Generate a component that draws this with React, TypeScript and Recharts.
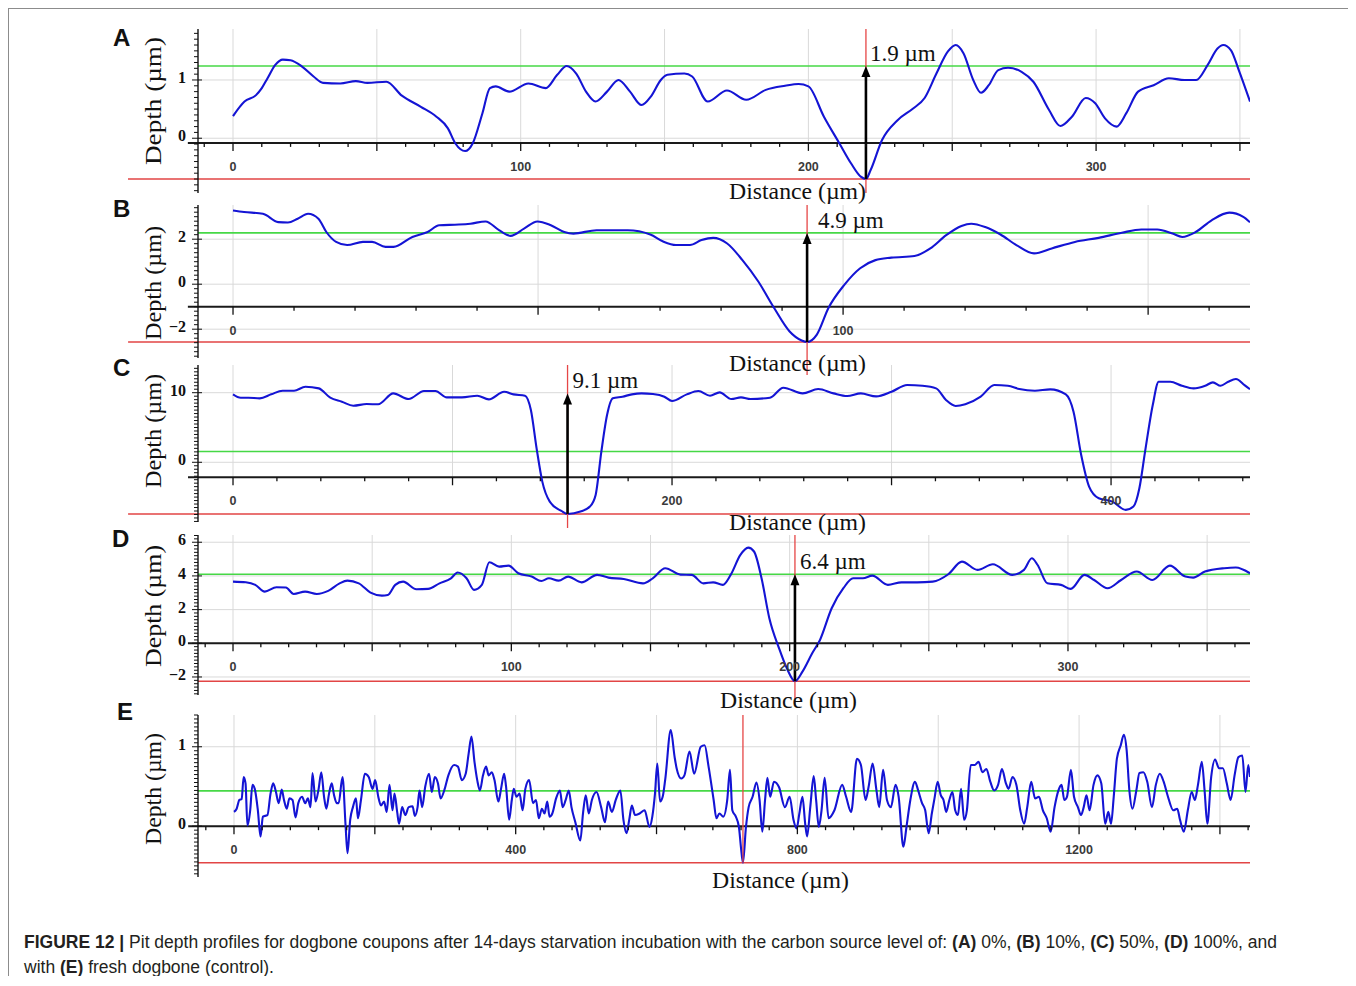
import React from "react";
import { LineChart, Line, XAxis, YAxis, ReferenceLine, ReferenceDot } from "recharts";

type Pt = [number, number];

// distance (µm), depth (µm)
const profileA: Pt[] = [
  [0, 0.38], [4, 0.63], [8, 0.74], [10, 0.86], [12, 1.03], [14.7, 1.26], [17.3, 1.35], [20, 1.34],
  [24, 1.23], [28, 1.06], [31.3, 0.95], [37.3, 0.94], [42.7, 0.98], [46.7, 0.95], [53.3, 0.97],
  [58.7, 0.73], [65.3, 0.54], [70.7, 0.37], [74.7, 0.17], [77.3, -0.09], [80.7, -0.22], [83.3, -0.09],
  [86.7, 0.43], [89.3, 0.86], [91.3, 0.89], [96, 0.8], [102.7, 0.94], [108.7, 0.86], [112.7, 1.09],
  [116, 1.24], [119.3, 1.11], [122.7, 0.8], [126, 0.63], [130, 0.8], [134, 1.0], [138, 0.8], [142, 0.57],
  [145.3, 0.72], [148.7, 1.0], [151, 1.09], [156.9, 1.11], [159.6, 1.06], [165, 0.63], [171.7, 0.82],
  [178.4, 0.66], [185.2, 0.83], [191.9, 0.9], [196.6, 0.93], [200, 0.89], [205.4, 0.37], [210.8, -0.09],
  [214.8, -0.43], [218.2, -0.66], [220, -0.7], [221.6, -0.55], [225.6, -0.03], [231, 0.31], [236.4, 0.51],
  [240.4, 0.69], [244.5, 1.11], [248.5, 1.49], [251.2, 1.6], [253.9, 1.46], [257.3, 1.0], [260, 0.78],
  [262.7, 0.91], [266, 1.17], [269.4, 1.21], [274.1, 1.14], [278.2, 0.97], [283.6, 0.49], [287.6, 0.21],
  [291.6, 0.37], [296.4, 0.69], [299.7, 0.6], [303.1, 0.34], [307.1, 0.2], [310.5, 0.43], [314.6, 0.8],
  [320, 0.91], [325.3, 1.03], [330.7, 1.0], [334.8, 1.0], [338.8, 1.26], [342.2, 1.54], [344.2, 1.6],
  [346.9, 1.51], [349.6, 1.17], [353.5, 0.63],
];

const profileB: Pt[] = [
  [0, 3.28], [1.8, 3.21], [4.9, 3.13], [7.4, 2.76], [9, 2.74], [10.6, 2.91], [12.3, 3.13], [14, 2.91],
  [15.3, 2.32], [16.9, 1.88], [18.7, 1.74], [21.3, 1.88], [22.8, 1.88], [25, 1.66], [26.3, 1.66],
  [29.4, 2.1], [31.9, 2.32], [33.8, 2.62], [37, 2.65], [38.9, 2.69], [41.4, 2.79], [43.6, 2.4],
  [45.5, 2.15], [47.7, 2.47], [49.9, 2.79], [52.1, 2.62], [54.3, 2.32], [55.8, 2.25], [59.6, 2.4],
  [64.7, 2.4], [68.4, 2.21], [70.5, 1.9], [72.6, 1.74], [74.9, 1.74], [76.8, 1.96], [78.7, 2.06],
  [81, 1.81], [83.5, 1.07], [86.1, 0.12], [88.7, -1.06], [91.2, -2.09], [93.2, -2.5], [94.1, -2.57],
  [95.7, -2.24], [97.6, -1.06], [100.2, -0.03], [102.8, 0.71], [105.3, 1.07], [107.9, 1.18],
  [111.7, 1.25], [114.3, 1.59], [116.9, 2.18], [119.4, 2.59], [121, 2.69], [123.3, 2.54], [125.8, 2.21],
  [128.4, 1.74], [131.3, 1.37], [134.2, 1.59], [138, 1.88], [141.9, 2.06], [145.7, 2.29], [148.9, 2.43],
  [151.5, 2.43], [154, 2.25], [155.6, 2.1], [157.8, 2.32], [160.4, 2.84], [163.3, 3.18], [165.6, 2.99],
  [166.7, 2.75],
];

const profileC: Pt[] = [
  [0, 9.76], [3.5, 9.28], [7, 9.28], [12.2, 9.19], [17.4, 9.76], [22.6, 10.29], [27.8, 10.29], [33, 10.86],
  [39.1, 10.62], [44.3, 9.28], [49.6, 8.71], [54.8, 8.13], [60.9, 8.37], [66.1, 8.33], [73, 9.9], [80, 9.09],
  [87, 10.24], [92.2, 10.24], [97.4, 9.33], [104.3, 9.33], [111.3, 9.57], [116.5, 9.04], [123.5, 10.14],
  [127.8, 9.76], [133, 9.57], [135.7, 7.51], [138.3, 2.01], [140.9, -2.78], [144.3, -5.65], [149.6, -6.99],
  [152.4, -7.42], [158.3, -7.08], [162.6, -6.36], [165.2, -4.69], [167.8, 1.53], [170.4, 6.79], [173, 9.19],
  [177.4, 9.43], [181.7, 9.76], [186.1, 9.9], [191.3, 9.81], [196.5, 9.43], [200, 8.8], [206.7, 9.76],
  [212, 10.24], [217.3, 9.57], [221.7, 10.05], [227, 9.09], [231.4, 9.33], [235.8, 9.09], [244.6, 9.28],
  [250.7, 10.72], [259.5, 9.9], [266.6, 10.53], [273.6, 9.9], [279.8, 9.52], [286, 9.9], [293, 9.47],
  [300, 10.14], [307.1, 11.1], [314.1, 11.0], [320.3, 10.62], [324.8, 8.95], [329.2, 8.09], [333.6, 8.33],
  [340.6, 9.43], [346.8, 11.1], [353, 11.0], [358.2, 10.53], [365.3, 10.29], [372.3, 10.48], [379.4, 9.76],
  [382.9, 7.27], [386.4, 1.05], [390, -3.49], [394.4, -5.17], [400.6, -5.65], [406.7, -6.84], [410.2, -6.36],
  [412.9, -3.73], [415.5, 1.53], [419, 8.23], [421.7, 11.58], [427, 11.58], [432.3, 11.0], [437.6, 10.62],
  [442.9, 11.0], [446.4, 11.48], [449.9, 11.0], [453.4, 11.58], [456.9, 11.96], [460.8, 11.1], [463.3, 10.5],
];

const profileD: Pt[] = [
  [0, 3.66], [4.6, 3.62], [8, 3.47], [11.4, 3.07], [15.6, 3.33], [19, 3.31], [21.8, 2.93], [25.9, 3.07],
  [30.1, 2.93], [34.2, 3.11], [38.3, 3.56], [41.1, 3.72], [45.2, 3.56], [49.4, 3.01], [53.5, 2.83],
  [55.6, 2.87], [58.3, 3.47], [61.1, 3.66], [65.9, 3.21], [70.1, 3.23], [74.2, 3.56], [78.3, 3.86],
  [80.7, 4.2], [83.9, 3.86], [86.6, 3.17], [89.4, 3.47], [92.1, 4.81], [95.6, 4.55], [99, 4.61],
  [102.5, 4.16], [107.3, 3.96], [110.8, 3.7], [113.5, 3.86], [117, 3.72], [120.4, 3.96], [125.2, 3.62],
  [130.8, 4.06], [134.9, 3.9], [140.4, 3.82], [147.3, 3.56], [150.8, 3.86], [155.3, 4.46], [160.8, 4.08],
  [164.8, 4.06], [169, 3.56], [172.5, 3.62], [176, 3.47], [178.8, 4.06], [182.3, 5.25], [185.1, 5.68],
  [187.2, 5.45], [189.9, 3.86], [192.7, 1.49], [196.2, -0.3], [199, -1.49], [201.9, -2.25], [204.6, -1.68],
  [208.1, -0.59], [210.9, 0.2], [215.1, 2.08], [219.3, 3.27], [222.8, 3.86], [226.3, 3.86], [229.7, 4.02],
  [235.3, 3.47], [240.2, 3.62], [245.8, 3.62], [251.4, 3.66], [257, 4.1], [261.9, 4.85], [267.5, 4.36],
  [273, 4.69], [280, 4.06], [284.2, 4.36], [287, 5.05], [289.1, 4.65], [292.6, 3.56], [297.5, 3.47],
  [301, 3.23], [305.9, 4.06], [309.4, 3.76], [314.2, 3.27], [319.1, 3.76], [324.7, 4.26], [330.3, 3.76],
  [336.6, 4.61], [342.2, 3.96], [345, 3.9], [349.2, 4.26], [356.1, 4.46], [360.3, 4.5], [365.4, 4.16],
];

const profileE: Pt[] = [
  [0, 0.18], [3.8, 0.22], [7.7, 0.33], [10.9, 0.34], [13.7, 0.62], [16.4, 0.54], [19.1, 0.01], [23, 0.2],
  [26.2, 0.52], [29.5, 0.47], [33.9, 0.2], [37.7, -0.13], [41, 0.12], [47.5, 0.14], [51.9, 0.41], [55.7, 0.54],
  [59.6, 0.43], [63.4, 0.29], [67.8, 0.46], [71, 0.33], [74.9, 0.22], [78.7, 0.35], [83.1, 0.33], [87.4, 0.11],
  [91.3, 0.29], [96.7, 0.37], [101.1, 0.29], [104.9, 0.35], [108.7, 0.24], [111.5, 0.67], [115.8, 0.31],
  [120.2, 0.47], [124, 0.68], [127.9, 0.37], [131.1, 0.22], [135, 0.41], [138.8, 0.54], [142.1, 0.39],
  [145.9, 0.29], [148.6, 0.29], [154.1, 0.62], [158.5, 0.0], [161.2, -0.34], [165, 0.08], [168.9, 0.24],
  [173.2, 0.35], [176, 0.1], [180.3, 0.33], [185.8, 0.66], [191.3, 0.62], [196.7, 0.47], [200.5, 0.58],
  [204.9, 0.37], [208.7, 0.26], [213.1, 0.31], [216.9, 0.18], [220.8, 0.52], [225.1, 0.2], [227.9, 0.41],
  [231.7, 0.18], [234.4, 0.03], [238.8, 0.24], [243.2, 0.14], [248.1, 0.24], [253.6, 0.25], [256.8, 0.13],
  [260.7, 0.24], [263.4, 0.45], [267.2, 0.24], [271.6, 0.5], [277, 0.66], [280.9, 0.43], [285.2, 0.62],
  [289.6, 0.54], [293.4, 0.35], [298.9, 0.46], [304.4, 0.64], [312.6, 0.77], [318, 0.75], [323.5, 0.58],
  [329, 0.66], [333.3, 0.92], [337.2, 1.13], [341.5, 0.81], [345.4, 0.58], [349.2, 0.45], [353.6, 0.64],
  [357.9, 0.75], [361.7, 0.64], [366.1, 0.68], [369.9, 0.58], [375.4, 0.31], [379.2, 0.47], [383.6, 0.66],
  [386.3, 0.5], [390.7, 0.08], [394.5, 0.33], [397.3, 0.47], [401.1, 0.37], [405.5, 0.41], [409.8, 0.2],
  [413.7, 0.47], [419.1, 0.58], [424.6, 0.29], [428.9, 0.33], [432.8, 0.1], [437.2, 0.22], [441, 0.16],
  [444.8, 0.31], [448.1, 0.12], [452, 0.16], [457.4, 0.35], [462.8, 0.45], [466.7, 0.24], [471, 0.33],
  [475.4, 0.45], [479.2, 0.24], [484.7, 0.05], [491.8, -0.18], [495.6, 0.16], [499.5, 0.39], [503.8, 0.16],
  [508.2, 0.33], [514.8, 0.43], [521.3, 0.24], [526.8, 0.05], [531.2, 0.31], [536.6, 0.18], [542.1, 0.33],
  [548.6, 0.45], [553, 0.08], [557.4, -0.09], [561.2, 0.08], [565, 0.26], [569.4, 0.14], [576, 0.16],
  [583.1, 0.2], [590, -0.01], [594, 0.12], [597.8, 0.41], [601.1, 0.79], [605, 0.31], [608.7, 0.37],
  [612.5, 0.6], [620.2, 1.21], [625.7, 0.87], [628.5, 0.73], [635.1, 0.6], [639.6, 0.64], [646.8, 0.94],
  [653.4, 0.66], [662.8, 1.0], [668.3, 1.02], [673.9, 0.75], [681.1, 0.33], [685, 0.1], [689.3, 0.16],
  [694.9, 0.12], [700.4, 0.33], [704.3, 0.71], [707.6, 0.2], [712.6, 0.12], [717, -0.01], [719.8, -0.26],
  [722.7, -0.46], [727, -0.01], [730.8, 0.24], [736.4, 0.37], [741.9, 0.55], [746.3, 0.33], [750.2, -0.07],
  [754.1, 0.33], [757.4, 0.61], [761.3, 0.37], [766.8, 0.56], [774, 0.49], [782.3, 0.24], [789, 0.37],
  [794.5, 0.08], [798.9, -0.03], [802.8, 0.16], [807.2, 0.37], [811.1, 0.03], [813.8, -0.13], [818.3, 0.24],
  [823.2, 0.63], [826.6, 0.33], [830.4, -0.01], [834.3, 0.2], [838.7, 0.61], [844.3, 0.1], [852.6, 0.2],
  [863.6, 0.52], [869.2, 0.37], [876.3, 0.18], [884.6, 0.85], [890.2, 0.77], [896.8, 0.33], [901.2, 0.5],
  [906.8, 0.79], [912.3, 0.45], [916.2, 0.24], [921.7, 0.71], [927.2, 0.33], [932.8, 0.24], [939.4, 0.52],
  [943.8, 0.37], [950.5, -0.26], [954.9, -0.01], [960.4, 0.33], [967, 0.56], [971.5, 0.45], [977, 0.29],
  [981.5, 0.2], [986.4, -0.09], [990.9, 0.16], [994.7, 0.35], [999.2, 0.56], [1003.6, 0.39], [1007.5, 0.33],
  [1011.3, 0.18], [1015.8, 0.33], [1020.2, 0.43], [1024.1, 0.2], [1028, 0.14], [1032.4, 0.47], [1036.8, 0.08],
  [1040.7, 0.2], [1046.2, 0.77], [1051.8, 0.77], [1057.3, 0.81], [1062.8, 0.68], [1068.4, 0.72],
  [1073.9, 0.56], [1079.4, 0.45], [1085, 0.52], [1090.5, 0.72], [1096.1, 0.54], [1099.9, 0.47],
  [1105.4, 0.62], [1111, 0.52], [1116.5, 0.2], [1122, 0.03], [1126.4, 0.24], [1132, 0.56], [1137.5, 0.35],
  [1143, 0.37], [1148.6, 0.2], [1154.1, 0.1], [1159.6, -0.07], [1165.2, 0.24], [1170.7, 0.45],
  [1175.1, 0.52], [1179, 0.33], [1182.8, 0.37], [1188.4, 0.71], [1192.8, 0.37], [1198.3, 0.24],
  [1202.7, 0.14], [1206.6, 0.24], [1210.5, 0.39], [1214.9, 0.2], [1220.5, 0.52], [1226, 0.64],
  [1231.5, 0.54], [1237.1, 0.03], [1241.5, 0.18], [1245.4, 0.03], [1249.2, 0.37], [1253.7, 0.85],
  [1259.2, 1.02], [1263.6, 1.15], [1267.5, 0.96], [1271.4, 0.45], [1275.8, 0.22], [1281.3, 0.45],
  [1285.7, 0.67], [1291.3, 0.68], [1296.8, 0.56], [1303.5, 0.24], [1309, 0.52], [1314.6, 0.66],
  [1320.1, 0.56], [1325.6, 0.39], [1333.9, 0.2], [1339.4, 0.22], [1343.3, 0.08], [1348.8, -0.07],
  [1354.4, 0.2], [1359.9, 0.43], [1364.4, 0.33], [1368.8, 0.52], [1374.3, 0.81], [1378.2, 0.45],
  [1382.1, 0.03], [1387.6, 0.62], [1393.1, 0.84], [1398.7, 0.73], [1404.2, 0.73], [1409.7, 0.54],
  [1415.2, 0.33], [1420.8, 0.64], [1426.3, 0.87], [1431.8, 0.89], [1436.3, 0.43], [1440.2, 0.77],
  [1442.7, 0.62],
];

const xLabelsA = [0, 100, 200, 300];
const xLabelsB = [0, 100];
const xLabelsC = [0, 200, 400];
const xLabelsD = [0, 100, 200, 300];
const xLabelsE = [0, 400, 800, 1200];

const yLabelsA = [0, 1];
const yLabelsB = [-2, 0, 2];
const yLabelsC = [0, 10];
const yLabelsD = [-2, 0, 2, 4, 6];
const yLabelsE = [0, 1];

// mean line (green), deepest point (red), pit position and measured depth
const meanLevel = [1.24, 2.28, 1.55, 4.1, 0.445];
const pitBottom = [-0.7, -2.57, -7.42, -2.25, -0.46];
const pitAt = [220, 94.1, 152.4, 201.9, 722.7];
const pitDepth = ["1.9 µm", "4.9 µm", "9.1 µm", "6.4 µm", ""];

const SERIF = '"Liberation Serif", "Times New Roman", serif';
const SANS = '"Liberation Sans", Arial, Helvetica, sans-serif';
const PAD_T = 12;
const PAD_B = 26;

interface Panel {
  letter: string;
  data: Pt[];
  plotTop: number;
  plotBottom: number;
  xDomain: [number, number];
  yDomain: [number, number];
  xMinor: number;
  xGrid: number;
  xLabels: number[];
  yMinor: number;
  yLabels: number[];
  axisY: number;
  axisFrom: number;
  redFrom: number;
  redVBottom: number;
  arrowTop?: number;
  labelDx: number;
  letterPos: [number, number];
  depthTitle: [number, number];
  distTitle: [number, number];
}

const panels: Panel[] = [
  {
    letter: "A", data: profileA, plotTop: 29, plotBottom: 193,
    xDomain: [-12.17, 353.5], yDomain: [-0.94, 1.875],
    xMinor: 10, xGrid: 50, xLabels: xLabelsA, yMinor: 0.1, yLabels: yLabelsA,
    axisY: -0.08, axisFrom: -15.7, redFrom: -36.5, redVBottom: -0.94, arrowTop: meanLevel[0], labelDx: 4,
    letterPos: [113, 46], depthTitle: [101, 128], distTitle: [797.5, 199],
  },
  {
    letter: "B", data: profileB, plotTop: 205, plotBottom: 358,
    xDomain: [-5.74, 166.7], yDomain: [-3.28, 3.52],
    xMinor: 10, xGrid: 50, xLabels: xLabelsB, yMinor: 0.2, yLabels: yLabelsB,
    axisY: -1.0, axisFrom: -7.4, redFrom: -17.2, redVBottom: -4.04, arrowTop: meanLevel[1], labelDx: 11,
    letterPos: [113, 217], depthTitle: [283, 114], distTitle: [797.5, 371],
  },
  {
    letter: "C", data: profileC, plotTop: 365, plotBottom: 522,
    xDomain: [-15.95, 463.3], yDomain: [-8.58, 13.98],
    xMinor: 20, xGrid: 100, xLabels: xLabelsC, yMinor: 0.5, yLabels: yLabelsC,
    axisY: -2.15, axisFrom: -20.5, redFrom: -47.8, redVBottom: -9.44, arrowTop: 9.9, labelDx: 5,
    letterPos: [113, 376], depthTitle: [431, 114], distTitle: [797.5, 530],
  },
  {
    letter: "D", data: profileD, plotTop: 535, plotBottom: 695,
    xDomain: [-12.58, 365.4], yDomain: [-3.07, 6.43],
    xMinor: 10, xGrid: 50, xLabels: xLabelsD, yMinor: 0.2, yLabels: yLabelsD,
    axisY: 0, axisFrom: -16.2, redFrom: -12.58, redVBottom: -3.66, arrowTop: meanLevel[3], labelDx: 5,
    letterPos: [112, 547], depthTitle: [606, 122], distTitle: [788.5, 708],
  },
  {
    letter: "E", data: profileE, plotTop: 715, plotBottom: 877,
    xDomain: [-51.1, 1442.7], yDomain: [-0.64, 1.4],
    xMinor: 40, xGrid: 200, xLabels: xLabelsE, yMinor: 0.05, yLabels: yLabelsE,
    axisY: 0, axisFrom: -65, redFrom: -51.1, redVBottom: -0.46, labelDx: 5,
    letterPos: [117, 720], depthTitle: [789, 112], distTitle: [780.5, 888],
  },
];

function steps(from: number, to: number, step: number) {
  const out: number[] = [];
  const a = Math.ceil(from / step - 1e-9);
  const b = Math.floor(to / step + 1e-9);
  for (let i = a; i <= b; i++) out.push(Math.round(i * step * 10000) / 10000);
  return out;
}

const onStep = (v: number, step: number) => Math.abs(v / step - Math.round(v / step)) < 1e-6;
const fmt = (v: number) => (v < 0 ? `\u2212${-v}` : `${v}`);

const makeYTick = (labels: number[]) => (props: any) => {
  const { x, y, payload } = props;
  const v = payload.value as number;
  const major = labels.some((l) => Math.abs(l - v) < 1e-6);
  return (
    <g>
      <line x1={x - (major ? 6 : 4)} y1={y} x2={x + (major ? 4 : 0)} y2={y} stroke="#111" strokeWidth={1} />
      {major && (
        <text x={x - 12} y={y + 3} textAnchor="end" fontFamily={SERIF} fontWeight="bold" fontSize={16} fill="#111">
          {fmt(v)}
        </text>
      )}
    </g>
  );
};

const makeXTick = (major: boolean, label: string | null) => (props: any) => {
  const { cx, cy } = props;
  return (
    <g>
      <line x1={cx} y1={cy} x2={cx} y2={cy + (major ? 8 : 4)} stroke="#111" strokeWidth={1.3} />
      {label !== null && (
        <text x={cx} y={cy + 28} textAnchor="middle" fontFamily={SANS} fontWeight="bold" fontSize={12.5} fill="#3a3a3a">
          {label}
        </text>
      )}
    </g>
  );
};

const makeArrow = (label: string, dx: number) => (props: any) => {
  const { x1, y1, y2 } = props;
  const top = Math.min(y1, y2);
  const bottom = Math.max(y1, y2);
  return (
    <g>
      <line x1={x1} y1={bottom} x2={x1} y2={top + 8} stroke="#000" strokeWidth={2.6} />
      <polygon points={`${x1 - 4.5},${top + 11} ${x1 + 4.5},${top + 11} ${x1},${top}`} fill="#000" />
      <text x={x1 + dx} y={top - 5} fontFamily={SERIF} fontSize={23} fill="#111">
        {label}
      </text>
    </g>
  );
};

function ProfilePanel({ p, i }: { p: Panel; i: number }) {
  const data = p.data.map(([x, y]) => ({ x, y }));
  const [x0, x1] = p.xDomain;
  const [y0, y1] = p.yDomain;
  const plotH = p.plotBottom - p.plotTop;
  const yTicks = steps(y0, y1, p.yMinor);
  const xTicks = steps(x0, x1, p.xMinor);
  const vGrid = steps(Math.max(0, x0), x1, p.xGrid);
  const grey = "#d9d9d9";
  return (
    <div style={{ position: "absolute", left: 92, top: p.plotTop - 8 - PAD_T }}>
      <LineChart width={1150} height={plotH + PAD_T + PAD_B} data={data} margin={{ top: PAD_T, right: 0, bottom: PAD_B, left: 0 }}>
        <XAxis type="number" dataKey="x" domain={p.xDomain} hide allowDataOverflow />
        <YAxis
          type="number"
          domain={p.yDomain}
          ticks={yTicks}
          interval={0}
          width={98}
          tick={makeYTick(p.yLabels)}
          tickLine={false}
          tickSize={0}
          tickMargin={0}
          axisLine={{ stroke: "#111", strokeWidth: 1.4 }}
          allowDataOverflow
        />
        {p.yLabels.map((v) => (
          <ReferenceLine key={`h${v}`} y={v} stroke={grey} strokeWidth={1} ifOverflow="visible" />
        ))}
        {vGrid.map((v) => (
          <ReferenceLine key={`v${v}`} segment={[{ x: v, y: p.axisY }, { x: v, y: y1 }]} stroke={grey} strokeWidth={1} ifOverflow="visible" />
        ))}
        <ReferenceLine y={meanLevel[i]} stroke="#46d846" strokeWidth={1.6} ifOverflow="visible" />
        <ReferenceLine segment={[{ x: p.redFrom, y: pitBottom[i] }, { x: x1, y: pitBottom[i] }]} stroke="#e24545" strokeWidth={1.6} ifOverflow="visible" />
        <ReferenceLine segment={[{ x: p.axisFrom, y: p.axisY }, { x: x1, y: p.axisY }]} stroke="#1a1a1a" strokeWidth={2} ifOverflow="visible" />
        {xTicks.map((t) => (
          <ReferenceDot
            key={`t${t}`}
            x={t}
            y={p.axisY}
            r={0}
            ifOverflow="visible"
            shape={makeXTick(onStep(t, p.xGrid), p.xLabels.includes(t) ? `${t}` : null)}
          />
        ))}
        <Line dataKey="y" type="monotone" stroke="#1414d4" strokeWidth={2.1} dot={false} activeDot={false} isAnimationActive={false} />
        <ReferenceLine segment={[{ x: pitAt[i], y: p.redVBottom }, { x: pitAt[i], y: y1 }]} stroke="#e64646" strokeWidth={1.3} ifOverflow="visible" />
        {p.arrowTop !== undefined && (
          <ReferenceLine
            segment={[{ x: pitAt[i], y: pitBottom[i] }, { x: pitAt[i], y: p.arrowTop }]}
            ifOverflow="visible"
            shape={makeArrow(pitDepth[i], p.labelDx)}
          />
        )}
      </LineChart>
    </div>
  );
}

export default function App() {
  return (
    <div style={{ position: "relative", width: 1342, height: 968, background: "#fff" }}>
      <div
        style={{
          position: "absolute", left: 0, top: 0, width: 1343, height: 968, boxSizing: "border-box",
          border: "1px solid #8c8c8c", borderBottom: "none",
        }}
      />
      {panels.map((p, i) => (
        <ProfilePanel key={p.letter} p={p} i={i} />
      ))}
      <svg width={1342} height={968} style={{ position: "absolute", left: 0, top: 0, pointerEvents: "none" }}>
        {panels.map((p) => (
          <g key={p.letter}>
            <text x={p.letterPos[0] - 8} y={p.letterPos[1] - 8} fontFamily={SANS} fontWeight="bold" fontSize={24} fill="#111">
              {p.letter}
            </text>
            <text
              transform={`translate(${161 - 8},${p.depthTitle[0] - 8}) rotate(-90)`}
              textAnchor="middle"
              fontFamily={SERIF}
              fontSize={23}
              fill="#111"
              textLength={p.depthTitle[1]}
              lengthAdjust="spacingAndGlyphs"
            >
              Depth (µm)
            </text>
            <text
              x={p.distTitle[0] - 8 - 68.5}
              y={p.distTitle[1] - 8}
              fontFamily={SERIF}
              fontSize={23}
              fill="#111"
              textLength={137}
              lengthAdjust="spacingAndGlyphs"
            >
              Distance (µm)
            </text>
          </g>
        ))}
      </svg>
      <div
        style={{
          position: "absolute", left: 16, top: 922, fontFamily: SANS, fontSize: 17.5, lineHeight: "25px",
          color: "#231f20", whiteSpace: "nowrap",
        }}
      >
        <b>FIGURE 12 |</b> Pit depth profiles for dogbone coupons after 14-days starvation incubation with the carbon
        source level of: <b>(A)</b> 0%, <b>(B)</b> 10%, <b>(C)</b> 50%, <b>(D)</b> 100%, and
        <br />
        with <b>(E)</b> fresh dogbone (control).
      </div>
    </div>
  );
}
